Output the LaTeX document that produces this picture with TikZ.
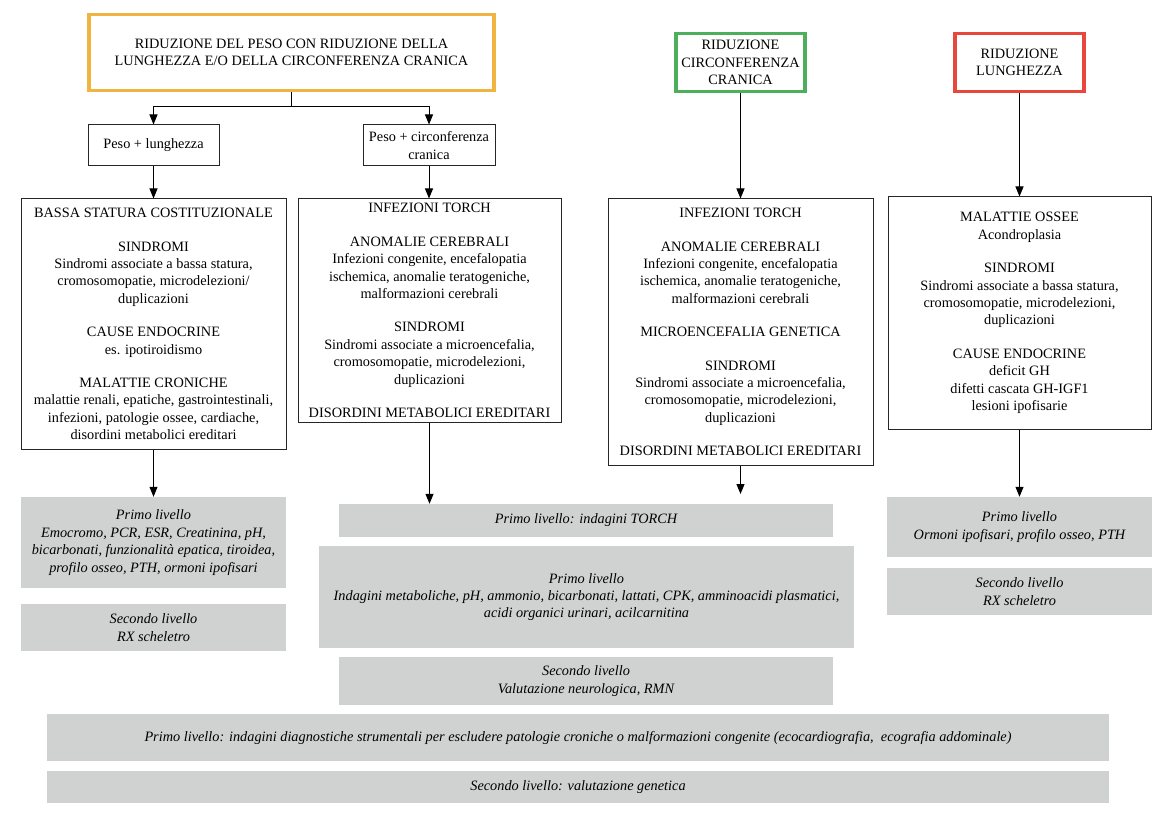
\documentclass[tikz,border=0pt]{standalone}
\usepackage{fontspec}
\setmainfont{Liberation Serif}
\newfontfamily\tnr{Liberation Serif}
\usetikzlibrary{arrows.meta}
\definecolor{cyel}{HTML}{F2B441}
\definecolor{cgrn}{HTML}{4CAF5B}
\definecolor{cred}{HTML}{E8473C}
\definecolor{cgray}{HTML}{D0D1D1}
\begin{document}
\begin{tikzpicture}[x=1pt,y=-1pt,
  every node/.style={font=\tnr\fontsize{14.3}{17.4}\selectfont, align=center, inner sep=0pt},
  kbox/.style={draw=black!85, line width=1pt, rectangle, fill=white},
  cbox/.style={line width=3.5pt, rectangle, fill=white},
  gbox/.style={fill=cgray, rectangle, font=\tnr\fontsize{14.3}{17.4}\selectfont\itshape},
  arr/.style={-{Triangle[length=10pt,width=8pt]}, line width=1pt},
  ln/.style={line width=1pt}]
\useasboundingbox[fill=white] (0,0) rectangle (1172,818);

% top coloured boxes
\node[cbox, draw=cyel, minimum width=405, minimum height=76] (top) at (291.5,52.5)
  {RIDUZIONE DEL PESO CON RIDUZIONE DELLA\\LUNGHEZZA E/O DELLA CIRCONFERENZA CRANICA};
\node[cbox, draw=cgrn, minimum width=129, minimum height=58] (grn) at (740.5,62.5)
  {RIDUZIONE\\CIRCONFERENZA\\CRANICA};
\node[cbox, draw=cred, minimum width=129, minimum height=58] (red) at (1019.5,62.5)
  {RIDUZIONE\\LUNGHEZZA};

% small boxes
\node[kbox, minimum width=131, minimum height=41] (pl) at (153.5,145.5) {Peso + lunghezza};
\node[kbox, minimum width=132, minimum height=41] (pc) at (429,145.5) {Peso + circonferenza\\cranica};

% big boxes
\node[kbox, minimum width=265, minimum height=250] (b1) at (153.5,324)
  {BASSA STATURA COSTITUZIONALE\\[16pt]
   SINDROMI\\Sindromi associate a bassa statura,\\cromosomopatie, microdelezioni/\\duplicazioni\\[16pt]
   CAUSE ENDOCRINE\\es. ipotiroidismo\\[16pt]
   MALATTIE CRONICHE\\malattie renali, epatiche, gastrointestinali,\\infezioni, patologie ossee, cardiache,\\disordini metabolici ereditari};
\node[kbox, minimum width=263, minimum height=223] (b2) at (429.5,310.5)
  {INFEZIONI TORCH\\[16pt]
   ANOMALIE CEREBRALI\\Infezioni congenite, encefalopatia\\ischemica, anomalie teratogeniche,\\malformazioni cerebrali\\[16pt]
   SINDROMI\\Sindromi associate a microencefalia,\\cromosomopatie, microdelezioni,\\duplicazioni\\[16pt]
   DISORDINI METABOLICI EREDITARI};
\node[kbox, minimum width=265, minimum height=266] (b3) at (740.5,332)
  {INFEZIONI TORCH\\[16pt]
   ANOMALIE CEREBRALI\\Infezioni congenite, encefalopatia\\ischemica, anomalie teratogeniche,\\malformazioni cerebrali\\[16pt]
   MICROENCEFALIA GENETICA\\[16pt]
   SINDROMI\\Sindromi associate a microencefalia,\\cromosomopatie, microdelezioni,\\duplicazioni\\[16pt]
   DISORDINI METABOLICI EREDITARI};
\node[kbox, minimum width=263, minimum height=232] (b4) at (1019.5,313)
  {MALATTIE OSSEE\\Acondroplasia\\[16pt]
   SINDROMI\\Sindromi associate a bassa statura,\\cromosomopatie, microdelezioni,\\duplicazioni\\[16pt]
   CAUSE ENDOCRINE\\deficit GH\\difetti cascata GH-IGF1\\lesioni ipofisarie};

% gray boxes
\node[gbox, minimum width=265, minimum height=91] (l1) at (153.5,542.5)
  {Primo livello\\Emocromo, PCR, ESR, Creatinina, pH,\\bicarbonati, funzionalità epatica, tiroidea,\\profilo osseo, PTH, ormoni ipofisari};
\node[gbox, minimum width=265, minimum height=47] (l2) at (153.5,627.5)
  {Secondo livello\\RX scheletro};
\node[gbox, minimum width=494, minimum height=33] (torch) at (586,520.5)
  {Primo livello: indagini TORCH};
\node[gbox, minimum width=535, minimum height=102] (ind) at (586.5,597)
  {Primo livello\\Indagini metaboliche, pH, ammonio, bicarbonati, lattati, CPK, amminoacidi plasmatici,\\acidi organici urinari, acilcarnitina};
\node[gbox, minimum width=494, minimum height=48] (neu) at (586,681)
  {Secondo livello\\Valutazione neurologica, RMN};
\node[gbox, minimum width=265, minimum height=60] (r1) at (1019.5,527)
  {Primo livello\\Ormoni ipofisari, profilo osseo, PTH};
\node[gbox, minimum width=265, minimum height=47] (r2) at (1019.5,591.5)
  {Secondo livello\\RX scheletro};
\node[gbox, minimum width=1062, minimum height=47] (g1) at (578,737.5)
  {Primo livello: indagini diagnostiche strumentali per escludere patologie croniche o malformazioni congenite (ecocardiografia,\ \ ecografia addominale)};
\node[gbox, minimum width=1062, minimum height=32] (g2) at (578,787)
  {Secondo livello: valutazione genetica};

% connectors
\coordinate (j) at (291.5,107);
\draw[ln] (top.south) -- (j);
\draw[arr] (j) -| (pl.north);
\draw[arr] (j) -| (pc.north);
\draw[arr] (pl.south) -- (b1.north);
\draw[arr] (pc.south) -- (pc.south |- b2.north);
\draw[arr] (grn.south) -- (b3.north);
\draw[arr] (red.south) -- (b4.north);
\draw[arr] (b1.south) -- (l1.north);
\draw[arr] (b2.south) -- (b2.south |- torch.north);
\coordinate (e3) at (740.5,494);
\draw[arr] (b3.south) -- (e3);
\draw[arr] (b4.south) -- (r1.north);
\end{tikzpicture}
\end{document}
